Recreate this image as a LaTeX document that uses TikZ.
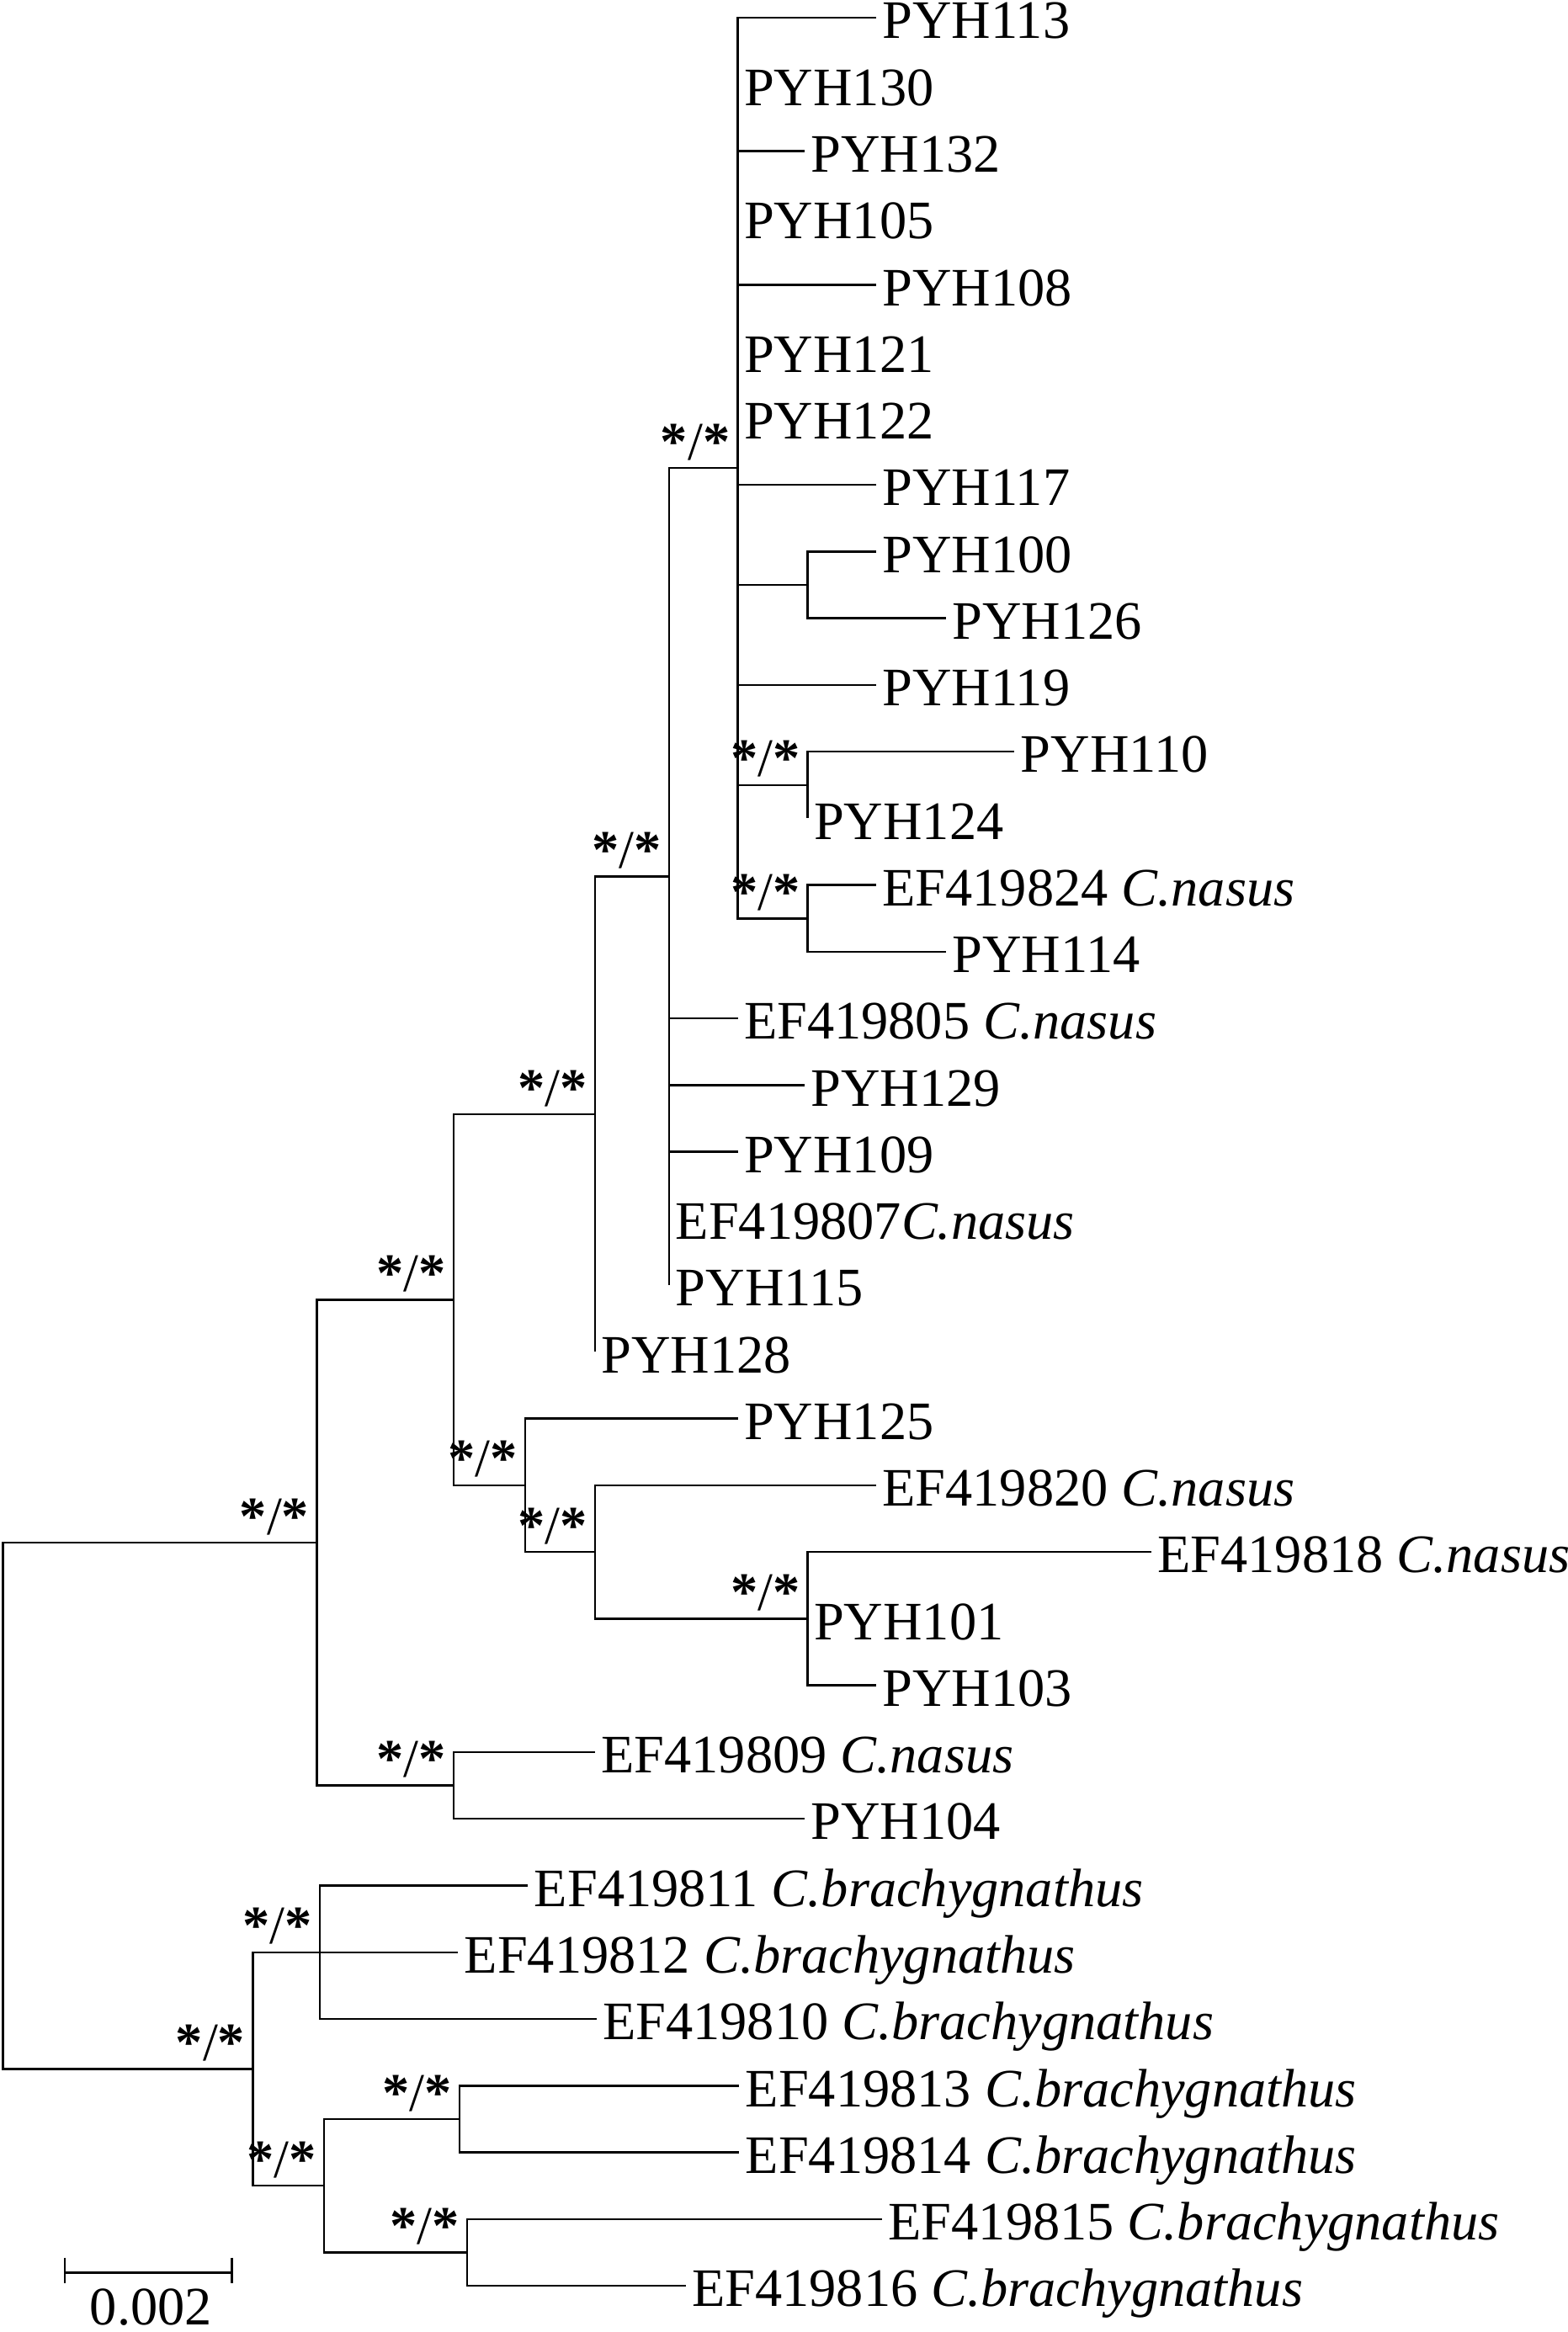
\documentclass[tikz,border=0pt]{standalone}
\usepackage{fontspec}
\setmainfont{Liberation Serif}
\usetikzlibrary{positioning}

\begin{document}
\begin{tikzpicture}[x=0.025cm, y=-0.025cm,
    branch/.style={line width=1pt, line join=miter},
    taxon/.style={anchor=base west, inner sep=0pt, font=\fontsize{25.9}{31}\selectfont},
    supp/.style={anchor=south east, inner sep=0pt, font=\fontsize{25.9}{31}\selectfont}]
  \useasboundingbox (0,0) rectangle (1054,1568);

  % internal nodes of the tree
  \coordinate (nRoot) at (2,1214.2);
  \coordinate (nA) at (213,1037.3);
  \coordinate (nB) at (305,874);
  \coordinate (nC) at (400,749.2);
  \coordinate (nK) at (450,589.4);
  \coordinate (nH) at (496,314.7);
  \coordinate (nQ) at (543,393.2);
  \coordinate (nR) at (543,527.8);
  \coordinate (nS) at (543,617.5);
  \coordinate (nD) at (353,998.7);
  \coordinate (nE) at (400,1043.55);
  \coordinate (nF) at (543,1088.4);
  \coordinate (nG) at (305,1200.5);
  \coordinate (nL) at (170,1391.1);
  \coordinate (nM) at (215,1312.65);
  \coordinate (nN) at (218,1469.6);
  \coordinate (nO) at (309,1424.8);
  \coordinate (nP) at (314,1514.5);

  % leaves: name / tip x / row / label
  \foreach \n/\x/\r/\txt in {
      p113/589/0/PYH113, p130/496/1/PYH130, p132/541/2/PYH132,
      p105/496/3/PYH105, p108/589/4/PYH108, p121/496/5/PYH121,
      p122/496/6/PYH122, p117/589/7/PYH117, p100/589/8/PYH100,
      p126/636/9/PYH126, p119/589/10/PYH119, p110/682/11/PYH110,
      p124/543/12/PYH124, e824/589/13/{EF419824 \textit{C.nasus}},
      p114/636/14/PYH114, e805/496/15/{EF419805 \textit{C.nasus}},
      p129/541/16/PYH129, p109/496/17/PYH109,
      e807/450/18/{EF419807\textit{C.nasus}}, p115/450/19/PYH115,
      p128/400/20/PYH128, p125/496/21/PYH125,
      e820/589/22/{EF419820 \textit{C.nasus}},
      e818/774/23/{EF419818 \textit{C.nasus}},
      p101/543/24/PYH101, p103/589/25/PYH103,
      e809/400/26/{EF419809 \textit{C.nasus}}, p104/541/27/PYH104,
      e811/355/28/{EF419811 \textit{C.brachygnathus}},
      e812/308/29/{EF419812 \textit{C.brachygnathus}},
      e810/401/30/{EF419810 \textit{C.brachygnathus}},
      e813/497/31/{EF419813 \textit{C.brachygnathus}},
      e814/497/32/{EF419814 \textit{C.brachygnathus}},
      e815/593/33/{EF419815 \textit{C.brachygnathus}},
      e816/461/34/{EF419816 \textit{C.brachygnathus}}} {
    \coordinate (tip\n) at (\x,{12+44.85*\r});
    \node[taxon] (t\n) at ([shift={(4,14)}]tip\n) {\txt};
  }

  % branches
  \foreach \p/\c in {nRoot/nA, nRoot/nL, nA/nB, nA/nG, nB/nC, nB/nD,
      nC/nK, nC/tipp128, nK/nH, nK/tipe805, nK/tipp129, nK/tipp109,
      nK/tipe807, nK/tipp115, nH/tipp113, nH/tipp130, nH/tipp132,
      nH/tipp105, nH/tipp108, nH/tipp121, nH/tipp122, nH/tipp117,
      nH/nQ, nH/tipp119, nH/nR, nH/nS, nQ/tipp100, nQ/tipp126,
      nR/tipp110, nR/tipp124, nS/tipe824, nS/tipp114,
      nD/tipp125, nD/nE, nE/tipe820, nE/nF, nF/tipe818, nF/tipp101,
      nF/tipp103, nG/tipe809, nG/tipp104, nL/nM, nL/nN,
      nM/tipe811, nM/tipe812, nM/tipe810, nN/nO, nN/nP,
      nO/tipe813, nO/tipe814, nP/tipe815, nP/tipe816} {
    \draw[branch] (\p) |- (\c);
  }

  % support values
  \foreach \c in {nA, nB, nC, nK, nH, nR, nS, nD, nE, nF, nG,
      nL, nM, nN, nO, nP} {
    \node[supp] (s\c) at ([shift={(-5,-5)}]\c) {\textbf{*}/\textbf{*}};
  }

  % scale bar
  \coordinate (sbL) at (43.5,1528);
  \coordinate (sbR) at (156,1528);
  \draw[branch] (sbL) -- (sbR);
  \draw[branch] ([shift={(0,-10)}]sbL) -- ([shift={(0,7)}]sbL);
  \draw[branch] ([shift={(0,-10)}]sbR) -- ([shift={(0,7)}]sbR);
  \node[taxon, anchor=base] (sbText) at (101.5,1563) {0.002};

\end{tikzpicture}
\end{document}
